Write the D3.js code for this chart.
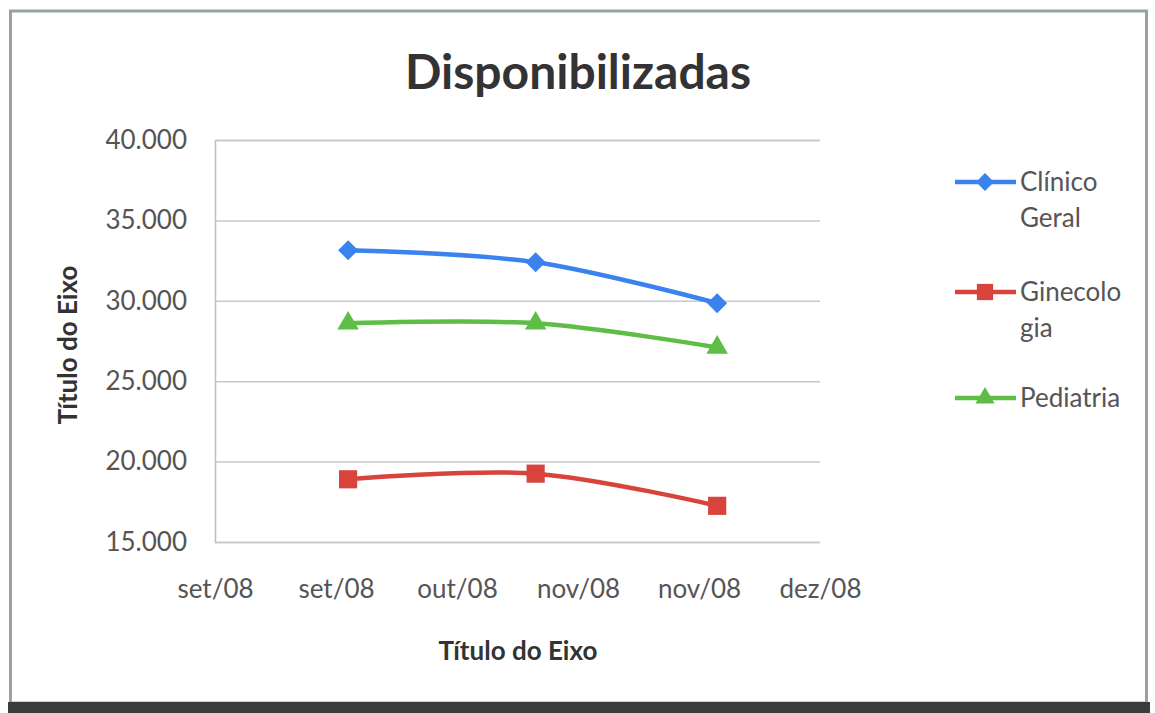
<!DOCTYPE html>
<html>
<head>
<meta charset="utf-8">
<script src="https://cdn.jsdelivr.net/npm/d3@7"></script>
<style>
  body { margin: 0; background: #ffffff; }
  text { font-family: Lato, "Open Sans", sans-serif; }
</style>
</head>
<body>
<script>
var w = 1155;
var h = 713;

// data
var dates = ["2008-09-30", "2008-10-31", "2008-11-30"];
var seriesNames = ["Clínico Geral", "Ginecologia", "Pediatria"];
var clinico = [33150, 32400, 29850];
var ginecologia = [18900, 19250, 17250];
var pediatria = [28600, 28600, 27100];
var tickDates = ["2008-09-08", "2008-09-28", "2008-10-18", "2008-11-07", "2008-11-27", "2008-12-17"];
var yTicks = [15000, 20000, 25000, 30000, 35000, 40000];
var mesesPt = ["jan", "fev", "mar", "abr", "mai", "jun", "jul", "ago", "set", "out", "nov", "dez"];

var colors = ["#3a82ee", "#d8433c", "#5dbd45"];
var markers = [d3.symbolSquare, d3.symbolSquare, d3.symbolTriangle];
var markerRot = [45, 0, 0];
var markerSizes = [200, 330, 200];

var parse = d3.utcParse("%Y-%m-%d");
var ptBR = d3.formatLocale({decimal: ",", thousands: ".", grouping: [3], currency: ["R$", ""]});
var fmtY = ptBR.format(",.0f");
function fmtX(d) {
    return mesesPt[d.getUTCMonth()] + "/" + d3.utcFormat("%y")(d);
}

var plotLeft = 215, plotRight = 820, plotTop = 140, plotBottom = 542;

var x = d3.scaleUtc()
    .domain([parse(tickDates[0]), parse(tickDates[tickDates.length - 1])])
    .range([plotLeft, plotRight]);
var y = d3.scaleLinear()
    .domain([15000, 40000])
    .range([plotBottom, plotTop]);

var svg = d3.select("body")
    .append("svg")
    .attr("width", w)
    .attr("height", h);

//---frame-----
svg.append("rect")
    .attr("x", 0).attr("y", 0)
    .attr("width", w).attr("height", h)
    .attr("fill", "#ffffff");

svg.append("rect")
    .attr("x", 10.5)
    .attr("y", 11)
    .attr("width", 1136)
    .attr("height", 692)
    .attr("fill", "#ffffff")
    .attr("stroke", "#97a3a3")
    .attr("stroke-width", 3);

svg.append("rect")
    .attr("x", 8)
    .attr("y", 702)
    .attr("width", 1142)
    .attr("height", 11)
    .attr("fill", "#3a3c3c");

//---title-----
svg.append("text")
    .text("Disponibilizadas")
    .attr("x", 578)
    .attr("y", 89)
    .attr("text-anchor", "middle")
    .attr("font-size", 48)
    .attr("font-weight", "bold")
    .attr("fill", "#333333");

//---grid + y axis-----
var yAxis = d3.axisLeft(y)
    .tickValues(yTicks)
    .tickSize(-(plotRight - plotLeft))
    .tickPadding(28)
    .tickFormat(fmtY);

var gy = svg.append("g")
    .attr("transform", "translate(" + plotLeft + ",0)")
    .call(yAxis);
gy.select(".domain").attr("stroke", "#b9bfbf").attr("stroke-width", 1.5);
gy.selectAll(".tick line").attr("stroke", "#c4c9c9").attr("stroke-width", 1.5);
gy.selectAll(".tick text")
    .attr("font-size", 26)
    .attr("font-family", "Lato, sans-serif")
    .attr("fill", "#555555");

//---x axis-----
var xAxis = d3.axisBottom(x)
    .tickValues(tickDates.map(parse))
    .tickSize(0)
    .tickPadding(38)
    .tickFormat(fmtX);

var gx = svg.append("g")
    .attr("transform", "translate(0," + plotBottom + ")")
    .call(xAxis);
gx.select(".domain").remove();
gx.selectAll(".tick text")
    .attr("font-size", 26)
    .attr("font-family", "Lato, sans-serif")
    .attr("fill", "#555555");

//---axis titles-----
svg.append("text")
    .text("Título do Eixo")
    .attr("x", 518)
    .attr("y", 660)
    .attr("text-anchor", "middle")
    .attr("font-size", 26)
    .attr("font-weight", "bold")
    .attr("fill", "#333333");

svg.append("text")
    .text("Título do Eixo")
    .attr("transform", "translate(77,345) rotate(-90)")
    .attr("text-anchor", "middle")
    .attr("font-size", 26)
    .attr("font-weight", "bold")
    .attr("fill", "#333333");

//---series-----
var allSeries = [clinico, ginecologia, pediatria];
var line = d3.line()
    .x(function (d, i) { return x(parse(dates[i])); })
    .y(function (d) { return y(d); })
    .curve(d3.curveCatmullRom.alpha(0.5));

allSeries.forEach(function (vals, s) {
    svg.append("path")
        .datum(vals)
        .attr("d", line)
        .attr("fill", "none")
        .attr("stroke", colors[s])
        .attr("stroke-width", 4.5)
        .attr("stroke-linecap", "round");

    svg.selectAll(".m" + s)
        .data(vals)
        .enter()
        .append("path")
        .attr("class", "m" + s)
        .attr("transform", function (d, i) {
            return "translate(" + x(parse(dates[i])) + "," + y(d) + ") rotate(" + markerRot[s] + ")";
        })
        .attr("d", d3.symbol().type(markers[s]).size(markerSizes[s]))
        .attr("fill", colors[s]);
});

//---legend-----
var legendRows = [["Clínico", "Geral"], ["Ginecolo", "gia"], ["Pediatria"]];
var legendY = [182, 292, 398];

legendRows.forEach(function (lines, s) {
    var g = svg.append("g").attr("transform", "translate(0," + legendY[s] + ")");
    g.append("line")
        .attr("x1", 955).attr("x2", 1016)
        .attr("y1", 0).attr("y2", 0)
        .attr("stroke", colors[s])
        .attr("stroke-width", 4.5);
    g.append("path")
        .attr("transform", "translate(985,0) rotate(" + markerRot[s] + ")")
        .attr("d", d3.symbol().type(markers[s]).size(markerSizes[s] * 0.8))
        .attr("fill", colors[s]);
    lines.forEach(function (t, k) {
        g.append("text")
            .text(t)
            .attr("x", 1020)
            .attr("y", 9 + k * 36)
            .attr("font-size", 26)
            .attr("fill", "#555555");
    });
});
</script>
</body>
</html>
